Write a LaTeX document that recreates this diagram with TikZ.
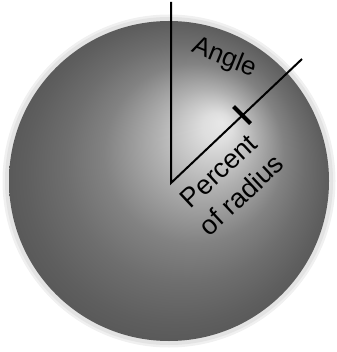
\documentclass[tikz,border=0pt]{standalone}
\usepackage{fontspec}
\setmainfont{Liberation Sans}
\pgfdeclareradialshading{sphere}{\pgfpoint{53pt}{59pt}}{%
  rgb(0pt)=(0.91,0.91,0.91);
  rgb(15pt)=(0.87,0.87,0.87);
  rgb(50pt)=(0.69,0.69,0.69);
  rgb(90pt)=(0.51,0.51,0.51);
  rgb(120pt)=(0.43,0.43,0.43);
  rgb(150pt)=(0.37,0.37,0.37);
  rgb(170pt)=(0.34,0.34,0.34)}
\tikzset{
  lbl/.style={font=\fontsize{26}{31}\selectfont, inner sep=0pt, text=black},
  ln/.style={line width=2pt, black},
  tickmark/.style={line width=4pt, black}
}
\begin{document}
\begin{tikzpicture}[x=1pt,y=-1pt]
\useasboundingbox (0,0) rectangle (336,352);
% halo
\fill[black!6] (169,181) circle (166.5pt);
\fill[black!11] (169,181) circle (164pt);
% shaded sphere
\begin{scope}
  \clip (169,181) circle (160pt);
  \pgftransformshift{\pgfpointxy{169}{181}}
  \pgflowlevelsynccm
  \pgfuseshading{sphere}
\end{scope}
% coordinates
\coordinate (c) at (171,183);
\coordinate (top) at (171,2);
\coordinate (rend) at (302,59);
\coordinate (t1) at (233.5,106.5);
\coordinate (t2) at (250.5,123.5);
% lines
\draw[ln] (top) -- (c) -- (rend);
\draw[tickmark] (t1) -- (t2);
% labels
\node[lbl, rotate=-22] (angle) at (224,58) {Angle};
\node[lbl, font=\fontsize{27}{33}\selectfont, rotate=43, align=center] (pct) at (230,183) {Percent\\of radius};
\end{tikzpicture}
\end{document}
